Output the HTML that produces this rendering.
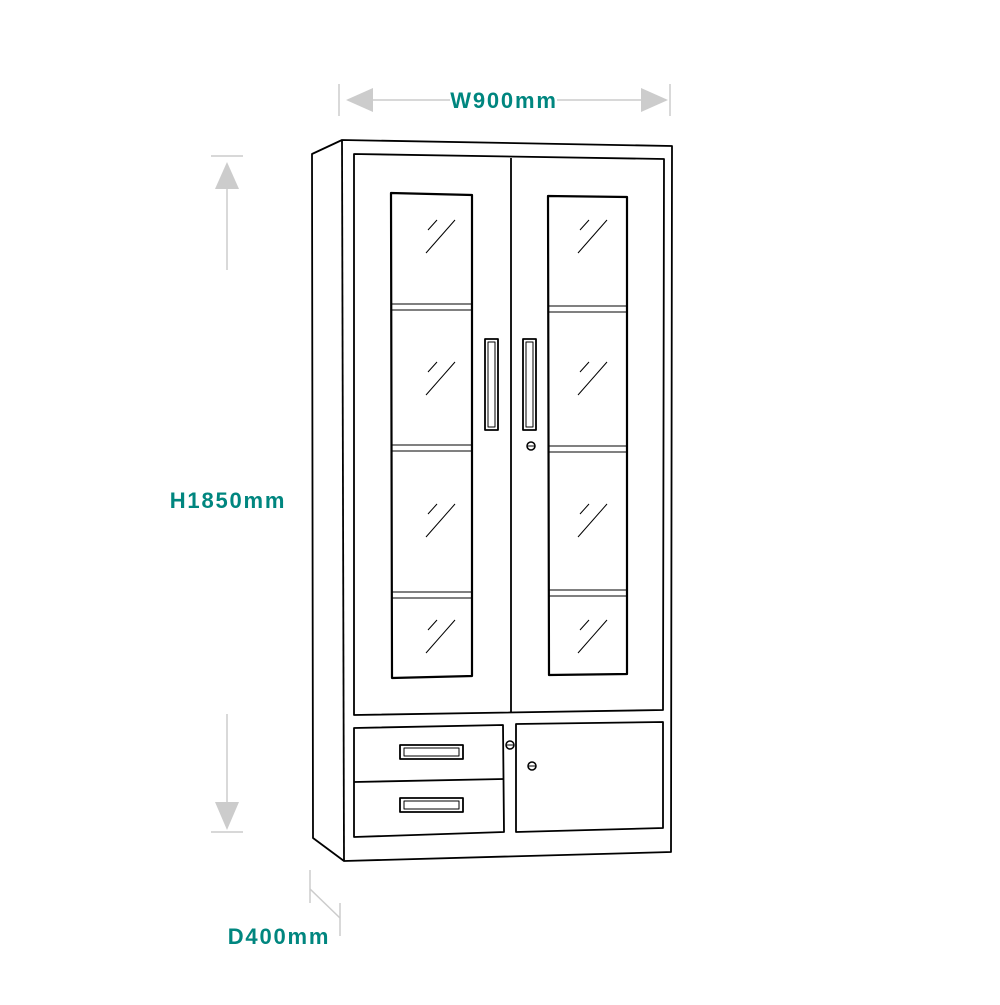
<!DOCTYPE html>
<html><head><meta charset="utf-8"><style>html,body{margin:0;padding:0;background:#fff}</style></head>
<body>
<svg width="1000" height="1000" viewBox="0 0 1000 1000" xmlns="http://www.w3.org/2000/svg" font-family="Liberation Sans, sans-serif">
<g stroke="#ccc" stroke-width="1.5" fill="none">
<line x1="339" y1="84" x2="339" y2="116"/><line x1="670" y1="84" x2="670" y2="116"/>
<line x1="370" y1="100" x2="450" y2="100"/><line x1="557" y1="100" x2="642" y2="100"/>
<line x1="211" y1="156" x2="243" y2="156"/><line x1="211" y1="832" x2="243" y2="832"/>
<line x1="227" y1="188" x2="227" y2="270"/><line x1="227" y1="714" x2="227" y2="802"/>
<line x1="310" y1="870" x2="310" y2="903"/><line x1="340" y1="903" x2="340" y2="936"/>
<line x1="310" y1="889" x2="340" y2="918"/>
</g>
<g fill="#ccc">
<polygon points="346,100 373,88 373,112"/><polygon points="668,100 641,88 641,112"/>
<polygon points="227,162 215,189 239,189"/><polygon points="227,830 215,802 239,802"/>
</g>
<g fill="#00867f" font-weight="bold" font-size="22" letter-spacing="1.8">
<text x="504" y="108" text-anchor="middle">W900mm</text>
<text x="228" y="508" text-anchor="middle">H1850mm</text>
<text x="279" y="944" text-anchor="middle">D400mm</text>
</g>
<g stroke="#000" stroke-width="1.8" fill="none" stroke-linejoin="round">
<polygon points="312,154 342,140 672,146 671,852 344,861 313,838"/>
<line x1="342" y1="140" x2="344" y2="861"/>
<polygon points="354,154 664,159 663,710 354,715"/>
<line x1="511" y1="158" x2="511" y2="712"/>
<polygon points="391,193 472,195 472,676 392,678" stroke-width="2.2"/>
<polygon points="548,196 627,197 627,674 549,675" stroke-width="2.2"/>
<polygon points="354,728 503,725 504,832 354,837"/>
<line x1="354" y1="782" x2="504" y2="779"/>
<polygon points="516,724 663,722 663,828 516,832"/>
<rect x="400" y="745" width="63" height="14"/><rect x="404" y="748" width="55" height="8" stroke-width="1"/>
<rect x="400" y="798" width="63" height="14"/><rect x="404" y="801" width="55" height="8" stroke-width="1"/>
<rect x="485" y="339" width="13" height="91"/><rect x="488" y="342" width="7" height="85" stroke-width="1"/>
<rect x="523" y="339" width="13" height="91"/><rect x="526" y="342" width="7" height="85" stroke-width="1"/>
</g>
<g stroke="#000" stroke-width="1" fill="none">
<line x1="392" y1="304" x2="472" y2="304"/><line x1="392" y1="310" x2="472" y2="310"/>
<line x1="392" y1="445" x2="472" y2="445"/><line x1="392" y1="451" x2="472" y2="451"/>
<line x1="392" y1="592" x2="472" y2="592"/><line x1="392" y1="598" x2="472" y2="598"/>
<line x1="549" y1="306" x2="627" y2="306"/><line x1="549" y1="312" x2="627" y2="312"/>
<line x1="549" y1="446" x2="627" y2="446"/><line x1="549" y1="452" x2="627" y2="452"/>
<line x1="549" y1="590" x2="627" y2="590"/><line x1="549" y1="596" x2="627" y2="596"/>
<g id="g1"><line x1="428" y1="230" x2="437" y2="220"/><line x1="426" y1="253" x2="455" y2="220"/></g>
<use href="#g1" y="142"/><use href="#g1" y="284"/><use href="#g1" y="400"/>
<use href="#g1" x="152"/><use href="#g1" x="152" y="142"/><use href="#g1" x="152" y="284"/><use href="#g1" x="152" y="400"/>
<circle cx="531" cy="446" r="4" stroke-width="1.5"/><line x1="527" y1="446" x2="535" y2="446"/>
<circle cx="510" cy="745" r="4" stroke-width="1.5"/><line x1="506" y1="745" x2="514" y2="745"/>
<circle cx="532" cy="766" r="4" stroke-width="1.5"/><line x1="528" y1="766" x2="536" y2="766"/>
</g>
</svg>
</body></html>
